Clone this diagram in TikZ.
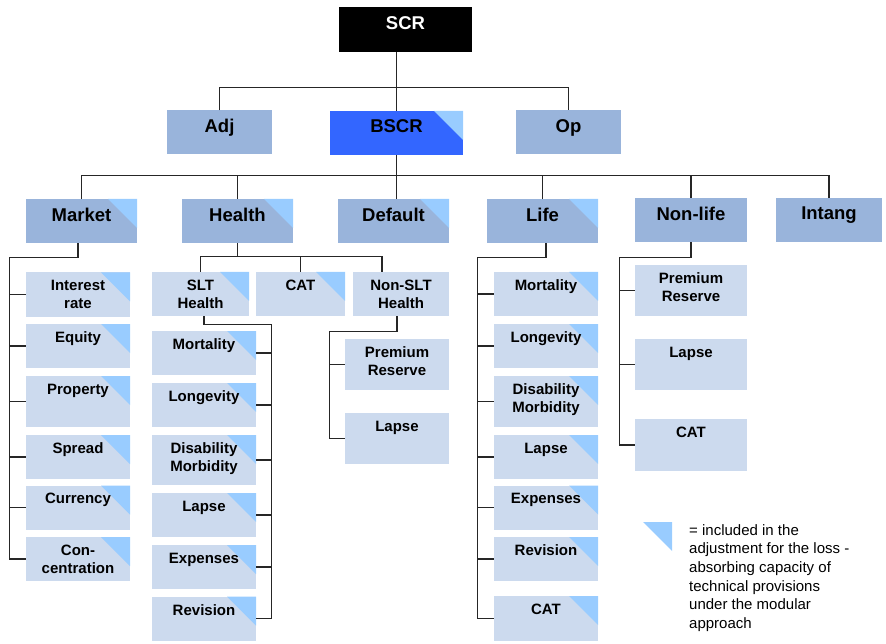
\documentclass[tikz,border=0pt]{standalone}
\usepackage{fontspec}
\setmainfont{Liberation Sans}
\definecolor{bscrblue}{RGB}{51,102,255}
\definecolor{midblue}{RGB}{153,180,219}
\definecolor{paleblue}{RGB}{204,218,238}
\definecolor{triblue}{RGB}{153,204,255}
\tikzset{
  conn/.style={draw=black!85, line width=1.3pt},
  box/.style={inner sep=0pt, minimum width=104pt, minimum height=44pt},
  lvl/.style={box, fill=midblue, minimum width=111pt},
  sub/.style={box, fill=paleblue},
  corner/.style={path picture={\fill[triblue] (path picture bounding box.north east) -- ++(-29pt,0pt) -- ++(29pt,-29pt) -- cycle;}},
  ltxt/.style={anchor=north, yshift=-9pt, inner sep=0pt, font=\bfseries\fontsize{18.5}{21}\selectfont},
  stxt/.style={anchor=north, yshift=-8pt, inner sep=0pt, align=center, font=\bfseries\fontsize{15}{18}\selectfont},
}
\begin{document}
\begin{tikzpicture}[x=1pt, y=-1pt]
    \useasboundingbox (0,0) rectangle (886,644);

    % top levels
    \node[box, fill=black, minimum width=133pt, minimum height=45pt, label={[ltxt, yshift=-1pt, text=white]north:SCR}] (scr) at (405.5,29.5) {};
    \node[lvl, minimum width=105pt, label={[ltxt]north:Adj}] (adj) at (219.5,132.5) {};
    \node[lvl, fill=bscrblue, minimum width=133pt, corner, label={[ltxt]north:BSCR}] (bscr) at (396.5,133) {};
    \node[lvl, minimum width=105pt, label={[ltxt]north:Op}] (op) at (568.5,132.5) {};

    % modules
    \node[lvl, corner, label={[ltxt]north:Market}] (market) at (81.5,221) {};
    \node[lvl, corner, label={[ltxt]north:Health}] (health) at (237.5,221) {};
    \node[lvl, corner, label={[ltxt]north:Default}] (default) at (393.5,221) {};
    \node[lvl, corner, label={[ltxt]north:Life}] (life) at (542.5,221) {};
    \node[lvl, minimum width=112pt, label={[ltxt]north:Non-life}] (nonlife) at (691,220) {};
    \node[lvl, minimum width=106pt, label={[ltxt]north:Intang}] (intang) at (829,220) {};

    % market
    \node[sub, corner, label={[stxt]north:Interest\\rate}] (mk1) at (78,294.5) {};
    \node[sub, corner, label={[stxt]north:Equity}] (mk2) at (78,346) {};
    \node[sub, corner, minimum height=51pt, label={[stxt]north:Property}] (mk3) at (78,401.5) {};
    \node[sub, corner, label={[stxt]north:Spread}] (mk4) at (78,457) {};
    \node[sub, corner, label={[stxt]north:Currency}] (mk5) at (78,507.5) {};
    \node[sub, corner, label={[stxt]north:Con-\\centration}] (mk6) at (78,559) {};

    % health
    \node[sub, corner, minimum width=97pt, label={[stxt]north:SLT\\Health}] (slt) at (200.5,294) {};
    \node[sub, corner, minimum width=89pt, label={[stxt]north:CAT}] (hcat) at (300.5,294) {};
    \node[sub, minimum width=96pt, label={[stxt]north:Non-SLT\\Health}] (nonslt) at (401,294) {};

    \node[sub, corner, label={[stxt]north:Mortality}] (hs1) at (204,353) {};
    \node[sub, corner, label={[stxt]north:Longevity}] (hs2) at (204,405) {};
    \node[sub, corner, minimum height=50pt, label={[stxt]north:Disability\\Morbidity}] (hs3) at (204,460) {};
    \node[sub, corner, label={[stxt]north:Lapse}] (hs4) at (204,515) {};
    \node[sub, corner, label={[stxt]north:Expenses}] (hs5) at (204,567) {};
    \node[sub, corner, label={[stxt]north:Revision}] (hs6) at (204,618.5) {};

    \node[sub, minimum height=51pt, label={[stxt]north:Premium\\Reserve}] (ns1) at (397,364.5) {};
    \node[sub, minimum height=51pt, label={[stxt]north:Lapse}] (ns2) at (397,438.5) {};

    % life
    \node[sub, corner, label={[stxt]north:Mortality}] (lf1) at (546,294) {};
    \node[sub, corner, label={[stxt]north:Longevity}] (lf2) at (546,346) {};
    \node[sub, corner, minimum height=51pt, label={[stxt]north:Disability\\Morbidity}] (lf3) at (546,401.5) {};
    \node[sub, corner, label={[stxt]north:Lapse}] (lf4) at (546,457) {};
    \node[sub, corner, label={[stxt]north:Expenses}] (lf5) at (546,507.5) {};
    \node[sub, corner, label={[stxt]north:Revision}] (lf6) at (546,559) {};
    \node[sub, corner, minimum height=45pt, label={[stxt]north:CAT}] (lf7) at (546,618.5) {};

    % non-life
    \node[sub, minimum width=112pt, minimum height=51pt, label={[stxt]north:Premium\\Reserve}] (nl1) at (691,290.5) {};
    \node[sub, minimum width=112pt, minimum height=51pt, label={[stxt]north:Lapse}] (nl2) at (691,364.5) {};
    \node[sub, minimum width=112pt, minimum height=52pt, label={[stxt]north:CAT}] (nl3) at (691,445) {};

    % connectors
    \draw[conn] (scr.south -| bscr.north) -- (bscr.north);
    \draw[conn] (adj.north) -- ++(0,-23) -| (op.north);
    \draw[conn] (bscr.south) -- (bscr.south |- default.north);
    \draw[conn] (market.north) -- ++(0,-23) -| (intang.north);
    \foreach \n in {health,life,nonlife}
        \draw[conn] (\n.north) -- ++(0,-23);

    \draw[conn] (market.south -| mk1) -- ++(0,14) -| ([xshift=-16pt]mk6.west) -- (mk6.west);
    \foreach \n in {mk1,mk2,mk3,mk4,mk5}
        \draw[conn] (\n.west) -- ++(-16,0);

    \draw[conn] (health.south) -- ++(0,14);
    \draw[conn] (slt.north) -- ++(0,-15) -| ([xshift=-19pt]nonslt.north);
    \draw[conn] (hcat.north) -- ++(0,-15);

    \draw[conn] (slt.south -| hs1) -- ++(0,8) -| ([xshift=15pt]hs6.east) -- (hs6.east);
    \foreach \n in {hs1,hs2,hs3,hs4,hs5}
        \draw[conn] (\n.east) -- ++(15,0);

    \draw[conn] (nonslt.south -| ns1) -- ++(0,15) -| ([xshift=-15pt]ns2.west) -- (ns2.west);
    \draw[conn] (ns1.west) -- ++(-15,0);

    \draw[conn] (life.south -| lf1) -- ++(0,14) -| ([xshift=-16pt]lf7.west) -- (lf7.west);
    \foreach \n in {lf1,lf2,lf3,lf4,lf5,lf6}
        \draw[conn] (\n.west) -- ++(-16,0);

    \draw[conn] (nonlife.south) -- ++(0,15) -| ([xshift=-15pt]nl3.west) -- (nl3.west);
    \foreach \n in {nl1,nl2}
        \draw[conn] (\n.west) -- ++(-15,0);

    % legend
    \fill[triblue] (643,522) -- (672,522) -- (672,551) -- cycle;
    \node[anchor=north west, align=left, inner sep=0pt, font=\fontsize{15}{18.7}\selectfont] (note) at (689,524)
        {= included in the\\adjustment for the loss -\\absorbing capacity of\\technical provisions\\under the modular\\approach};
\end{tikzpicture}
\end{document}
